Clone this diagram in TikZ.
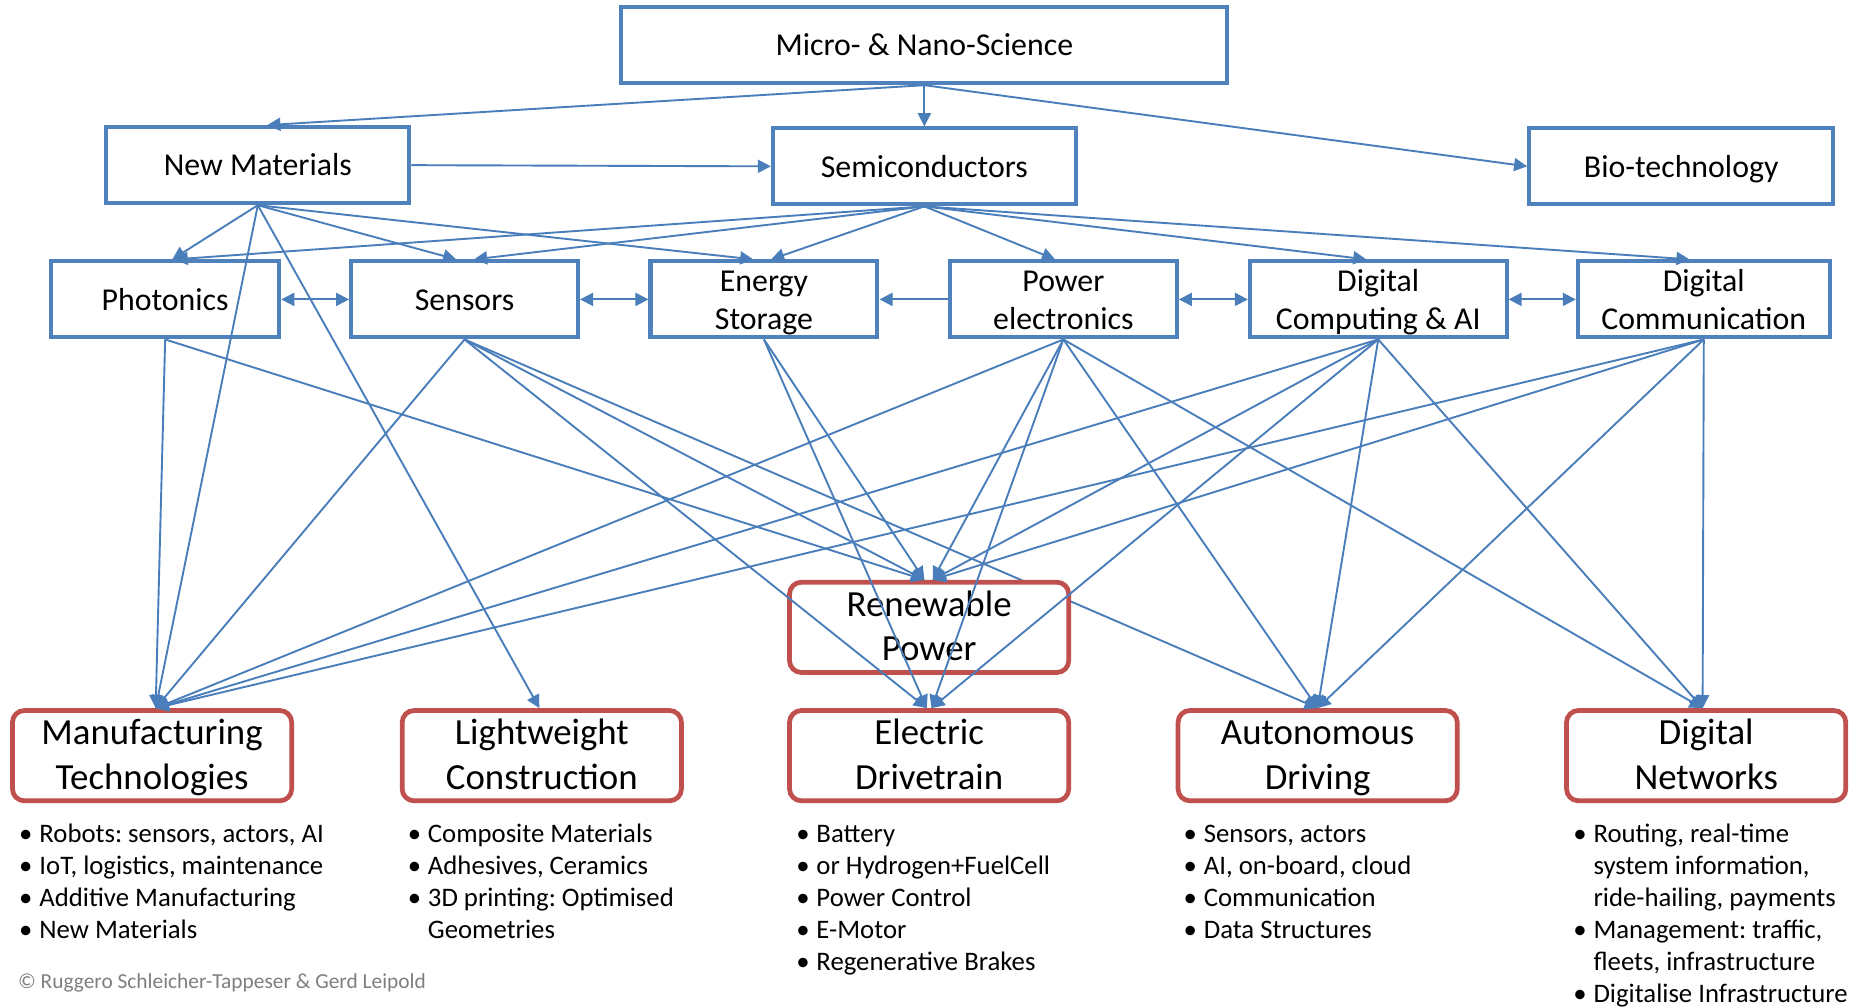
\documentclass[tikz,border=0pt]{standalone}
\usepackage{fontspec}
\setmainfont{Carlito}
\usetikzlibrary{arrows.meta}
\definecolor{bblue}{HTML}{4F81BD}
\definecolor{rred}{HTML}{C0504D}
\definecolor{lblue}{HTML}{4A7EBB}
\definecolor{cgray}{HTML}{7F7F7F}
\newcommand{\bl}{\makebox[17pt][l]{•}}
\newcommand{\cl}{\hspace*{17pt}}
\frenchspacing
\begin{document}
\begin{tikzpicture}[x=1pt,y=-1pt,
  bbox/.style={draw=bblue, line width=3.4pt, fill=white, inner sep=0pt, align=center,
    text depth=0pt, text height=18pt, font=\fontsize{26.8}{32}\selectfont},
  bbox2/.style={bbox, text height=50pt},
  rbox/.style={draw=rred, line width=4pt, rounded corners=10pt, inner sep=0pt,
    minimum width=235pt, minimum height=76pt, align=center, fill=white,
    text depth=0pt, text height=56.5pt, font=\fontsize{31}{37.5}\selectfont},
  conn/.style={draw=lblue, line width=1.6pt, -{Triangle[length=11pt,width=11pt]}},
  dconn/.style={draw=lblue, line width=1.6pt, {Triangle[length=11pt,width=11pt]}-{Triangle[length=11pt,width=11pt]}},
  blist/.style={anchor=base west, inner sep=0pt, font=\fontsize{22.5}{27}\selectfont}
]
\useasboundingbox[fill=white] (0,0) rectangle (1568,848);

% top nodes
\node[bbox, minimum width=510pt, minimum height=64pt] (micro) at (778,38) {Micro- \& Nano-Science};
\node[bbox, minimum width=255pt, minimum height=64pt] (nm) at (217,139) {New Materials};
\node[bbox, minimum width=255pt, minimum height=64pt] (semi) at (778,140) {Semiconductors};
\node[bbox, minimum width=256pt, minimum height=64pt] (bio) at (1415,140) {Bio-technology};

\node[bbox, minimum width=192pt, minimum height=64pt] (ph) at (139,252) {Photonics};
\node[bbox, minimum width=191pt, minimum height=64pt] (se) at (391,252) {Sensors};
\node[bbox2, minimum width=191pt, minimum height=64pt] (es) at (643,252) {Energy\\Storage};
\node[bbox2, minimum width=191pt, minimum height=64pt] (pe) at (895,252) {Power\\electronics};
\node[bbox2, minimum width=216pt, minimum height=64pt] (dc) at (1160,252) {Digital\\Computing \& AI};
\node[bbox2, minimum width=212pt, minimum height=64pt] (dcm) at (1434,252) {Digital\\Communication};

% bottom red boxes
\node[rbox] (mf) at (128,636) {Manufacturing\\Technologies};
\node[rbox] (lw) at (456,636) {Lightweight\\Construction};
\node[rbox] (el) at (782,636) {Electric\\Drivetrain};
\node[rbox] (au) at (1109,636) {Autonomous\\Driving};
\node[rbox] (dn) at (1436,636) {Digital\\Networks};

% sensors -> autonomous drawn behind the renewable box
\draw[conn] (se.south) -- (au.north);

\node[rbox] (rp) at (782,528) {Renewable\\Power};

% bullet lists
\node[blist] (l1) at (16,709) {\begin{tabular}[t]{@{}l@{}}
\bl Robots: sensors, actors, AI\\
\bl IoT, logistics, maintenance\\
\bl Additive Manufacturing\\
\bl New Materials\end{tabular}};
\node[blist] (l2) at (343,709) {\begin{tabular}[t]{@{}l@{}}
\bl Composite Materials\\
\bl Adhesives, Ceramics\\
\bl 3D printing: Optimised\\
\cl Geometries\end{tabular}};
\node[blist] (l3) at (670,709) {\begin{tabular}[t]{@{}l@{}}
\bl Battery\\
\bl or Hydrogen+FuelCell\\
\bl Power Control\\
\bl E-Motor\\
\bl Regenerative Brakes\end{tabular}};
\node[blist] (l4) at (996,709) {\begin{tabular}[t]{@{}l@{}}
\bl Sensors, actors\\
\bl AI, on-board, cloud\\
\bl Communication\\
\bl Data Structures\end{tabular}};
\node[blist] (l5) at (1324,709) {\begin{tabular}[t]{@{}l@{}}
\bl Routing, real-time\\
\cl system information,\\
\cl ride-hailing, payments\\
\bl Management: traffic,\\
\cl fleets, infrastructure\\
\bl Digitalise Infrastructure\end{tabular}};

\node[anchor=west, inner sep=0pt, text=cgray, font=\fontsize{18}{21}\selectfont] (copy) at (15,827)
  {© Ruggero Schleicher-Tappeser \& Gerd Leipold};

% connectors from Micro
\draw[conn] (micro.south) -- ([xshift=8pt]nm.north);
\draw[conn] (micro.south) -- (semi.north);
\draw[conn] (micro.south) -- (bio.west);
\draw[conn] (nm.east) -- (semi.west);

% from New Materials
\draw[conn] (nm.south) -- ([xshift=6pt]ph.north);
\draw[conn] (nm.south) -- ([xshift=-7pt]se.north);
\draw[conn] (nm.south) -- ([xshift=-9pt]es.north);
\draw[conn] (nm.south) -- ([xshift=3pt]mf.north);
\draw[conn] (nm.south) -- ([xshift=-2pt]lw.north);

% from Semiconductors
\draw[conn] (semi.south) -- ([xshift=8pt]ph.north);
\draw[conn] (semi.south) -- ([xshift=8pt]se.north);
\draw[conn] (semi.south) -- ([xshift=6pt]es.north);
\draw[conn] (semi.south) -- ([xshift=-7pt]pe.north);
\draw[conn] (semi.south) -- ([xshift=-10pt]dc.north);
\draw[conn] (semi.south) -- ([xshift=-12pt]dcm.north);

% row 3 horizontal
\draw[dconn] (ph.east) -- (se.west);
\draw[dconn] (se.east) -- (es.west);
\draw[conn] (pe.west) -- (es.east);
\draw[dconn] (pe.east) -- (dc.west);
\draw[dconn] (dc.east) -- (dcm.west);

% row 3 to applications
\draw[conn] (ph.south) -- ([xshift=3pt]mf.north);
\draw[conn] (ph.south) -- ([xshift=-4pt]rp.north);

\draw[conn] (se.south) -- ([xshift=3pt]mf.north);
\draw[conn] (se.south) -- ([xshift=-4pt]rp.north);
\draw[conn] (se.south) -- ([xshift=-2pt]el.north);

\draw[conn] (es.south) -- ([xshift=-4pt]rp.north);
\draw[conn] (es.south) -- ([xshift=-2pt]el.north);

\draw[conn] (pe.south) -- ([xshift=3pt]mf.north);
\draw[conn] (pe.south) -- ([xshift=3pt]rp.north);
\draw[conn] (pe.south) -- ([xshift=2pt]el.north);
\draw[conn] (pe.south) -- (au.north);
\draw[conn] (pe.south) -- ([xshift=-3pt]dn.north);

\draw[conn] (dc.south) -- ([xshift=3pt]mf.north);
\draw[conn] (dc.south) -- ([xshift=3pt]rp.north);
\draw[conn] (dc.south) -- ([xshift=2pt]el.north);
\draw[conn] (dc.south) -- (au.north);
\draw[conn] (dc.south) -- ([xshift=-3pt]dn.north);

\draw[conn] (dcm.south) -- ([xshift=3pt]mf.north);
\draw[conn] (dcm.south) -- ([xshift=3pt]rp.north);
\draw[conn] (dcm.south) -- (au.north);
\draw[conn] (dcm.south) -- ([xshift=-3pt]dn.north);
\end{tikzpicture}
\end{document}
